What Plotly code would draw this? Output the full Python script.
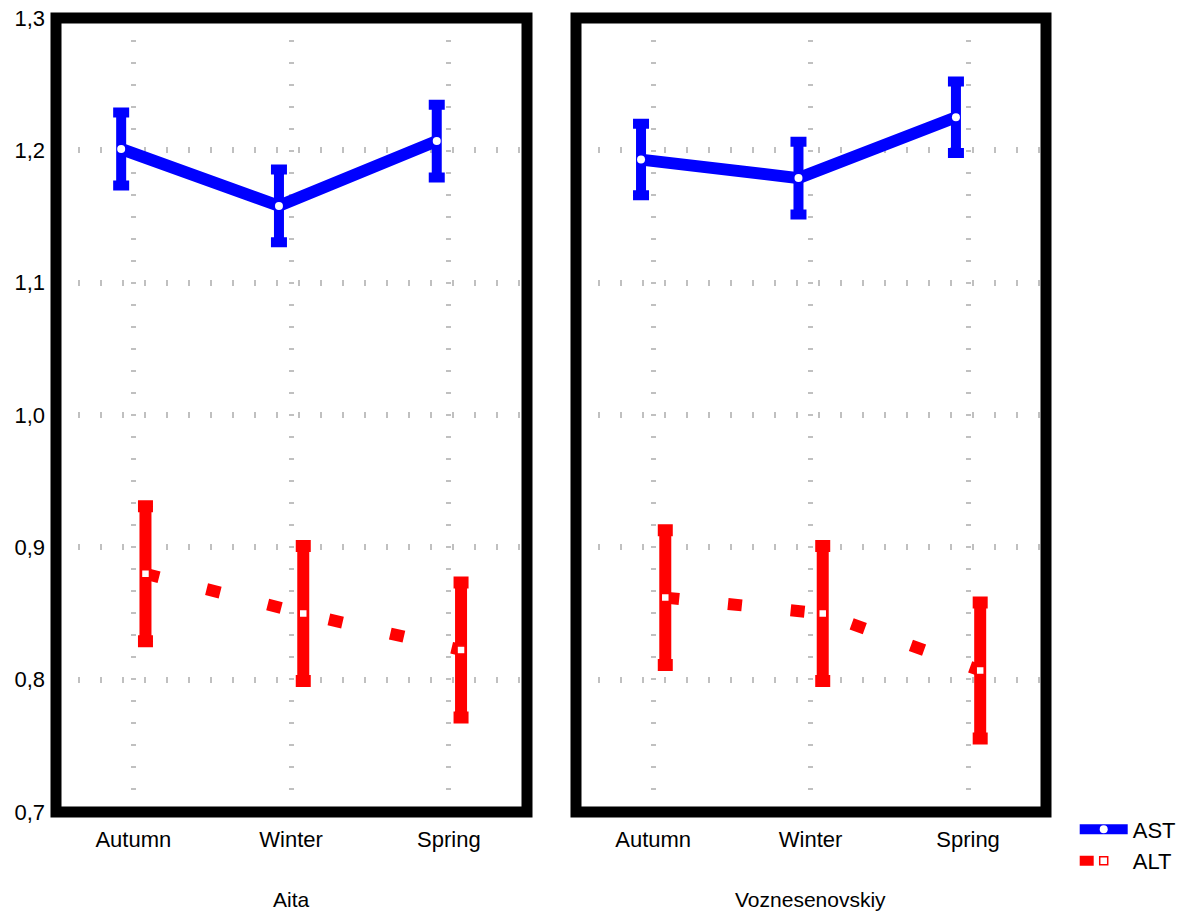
import plotly.graph_objects as go

# ---- data ----
seasons = ["Autumn", "Winter", "Spring"]
sites = ["Aita", "Voznesenovskiy"]

ast_aita = [1.201, 1.158, 1.207]
ast_aita_err = [0.0275, 0.0275, 0.0275]
alt_aita = [0.880, 0.850, 0.8225]
alt_aita_err = [0.051, 0.051, 0.051]

ast_vozn = [1.193, 1.179, 1.225]
ast_vozn_err = [0.027, 0.0275, 0.027]
alt_vozn = [0.862, 0.850, 0.807]
alt_vozn_err = [0.051, 0.051, 0.0514]

y_ticks = [0.7, 0.8, 0.9, 1.0, 1.1, 1.2, 1.3]
y_ticklabels = ["0,7", "0,8", "0,9", "1,0", "1,1", "1,2", "1,3"]

# ---- style ----
FONT = "Liberation Sans, Arial, sans-serif"
BLUE = "#0000ff"
RED = "#ff0000"
GRID = "#c0c0c0"
OFF = 0.077

fig = go.Figure()

panels = [
    ("x", "y", ast_aita, ast_aita_err, alt_aita, alt_aita_err, True),
    ("x2", "y2", ast_vozn, ast_vozn_err, alt_vozn, alt_vozn_err, False),
]
xpos = list(range(len(seasons)))
for xa, ya, ast, aste, alt, alte, show in panels:
    fig.add_trace(go.Scatter(
        x=[p - OFF for p in xpos], y=ast, xaxis=xa, yaxis=ya,
        mode="lines+markers", name="AST", legendgroup="AST", showlegend=show,
        line=dict(color=BLUE, width=12),
        marker=dict(symbol="circle", size=8, color="white", line=dict(width=0)),
        error_y=dict(type="data", array=aste, visible=True, color=BLUE,
                     thickness=10, width=8),
    ))
    fig.add_trace(go.Scatter(
        x=[p + OFF for p in xpos], y=alt, xaxis=xa, yaxis=ya,
        mode="lines+markers", name="ALT", legendgroup="ALT", showlegend=show,
        line=dict(color=RED, width=12, dash="14px,49px"),
        marker=dict(symbol="square", size=8, color="white",
                    line=dict(width=1.5, color=RED)),
        error_y=dict(type="data", array=alte, visible=True, color=RED,
                     thickness=12, width=7.5),
    ))

xaxis_common = dict(
    range=[-0.49, 2.495], tickvals=xpos, ticktext=seasons,
    showline=False,
    showgrid=True, gridcolor=GRID, gridwidth=5, griddash="2px,20px",
    zeroline=False, ticks="", tickfont=dict(size=22, color="black", family=FONT),
    ticklabelstandoff=12, automargin=False, ticklabeloverflow="allow",
    fixedrange=True,
)
yaxis_common = dict(
    range=[0.7, 1.3], tickvals=y_ticks, ticktext=y_ticklabels,
    showline=False,
    showgrid=True, gridcolor=GRID, gridwidth=6, griddash="2px,20px",
    zeroline=False, ticks="", tickfont=dict(size=22, color="black", family=FONT),
    ticklabelstandoff=10, automargin=False, ticklabeloverflow="allow",
    fixedrange=True,
)

fig.update_layout(
    width=1181, height=905,
    margin=dict(l=48, r=143, t=9.5, b=100.5, autoexpand=False),
    paper_bgcolor="white", plot_bgcolor="white",
    font=dict(family=FONT, size=22, color="black"),
    xaxis=dict(domain=[0, 0.47576], anchor="y", **xaxis_common),
    xaxis2=dict(domain=[0.52525, 1], anchor="y2", **xaxis_common),
    yaxis=dict(domain=[0, 1], anchor="x", **yaxis_common),
    yaxis2=dict(domain=[0, 1], anchor="x2", showticklabels=False, **yaxis_common),
    legend=dict(x=1.029, xanchor="left", y=0.0045, yanchor="top",
                font=dict(size=22, family=FONT, color="black"),
                bgcolor="rgba(0,0,0,0)", tracegroupgap=0, itemwidth=48),
    showlegend=True,
)

# thick black frames around each panel
for xr, yr in [("x domain", "y domain"), ("x2 domain", "y2 domain")]:
    fig.add_shape(type="rect", xref=xr, yref=yr, x0=0, x1=1, y0=0, y1=1,
                  line=dict(color="black", width=11), fillcolor="rgba(0,0,0,0)",
                  layer="above")

for i, site in enumerate(sites):
    ref = "x domain" if i == 0 else "x2 domain"
    fig.add_annotation(text=site, xref=ref, x=0.5, yref="paper", y=-0.110,
                       xanchor="center", yanchor="middle", showarrow=False,
                       font=dict(size=21, family=FONT, color="black"))

fig.write_html("out.html")
